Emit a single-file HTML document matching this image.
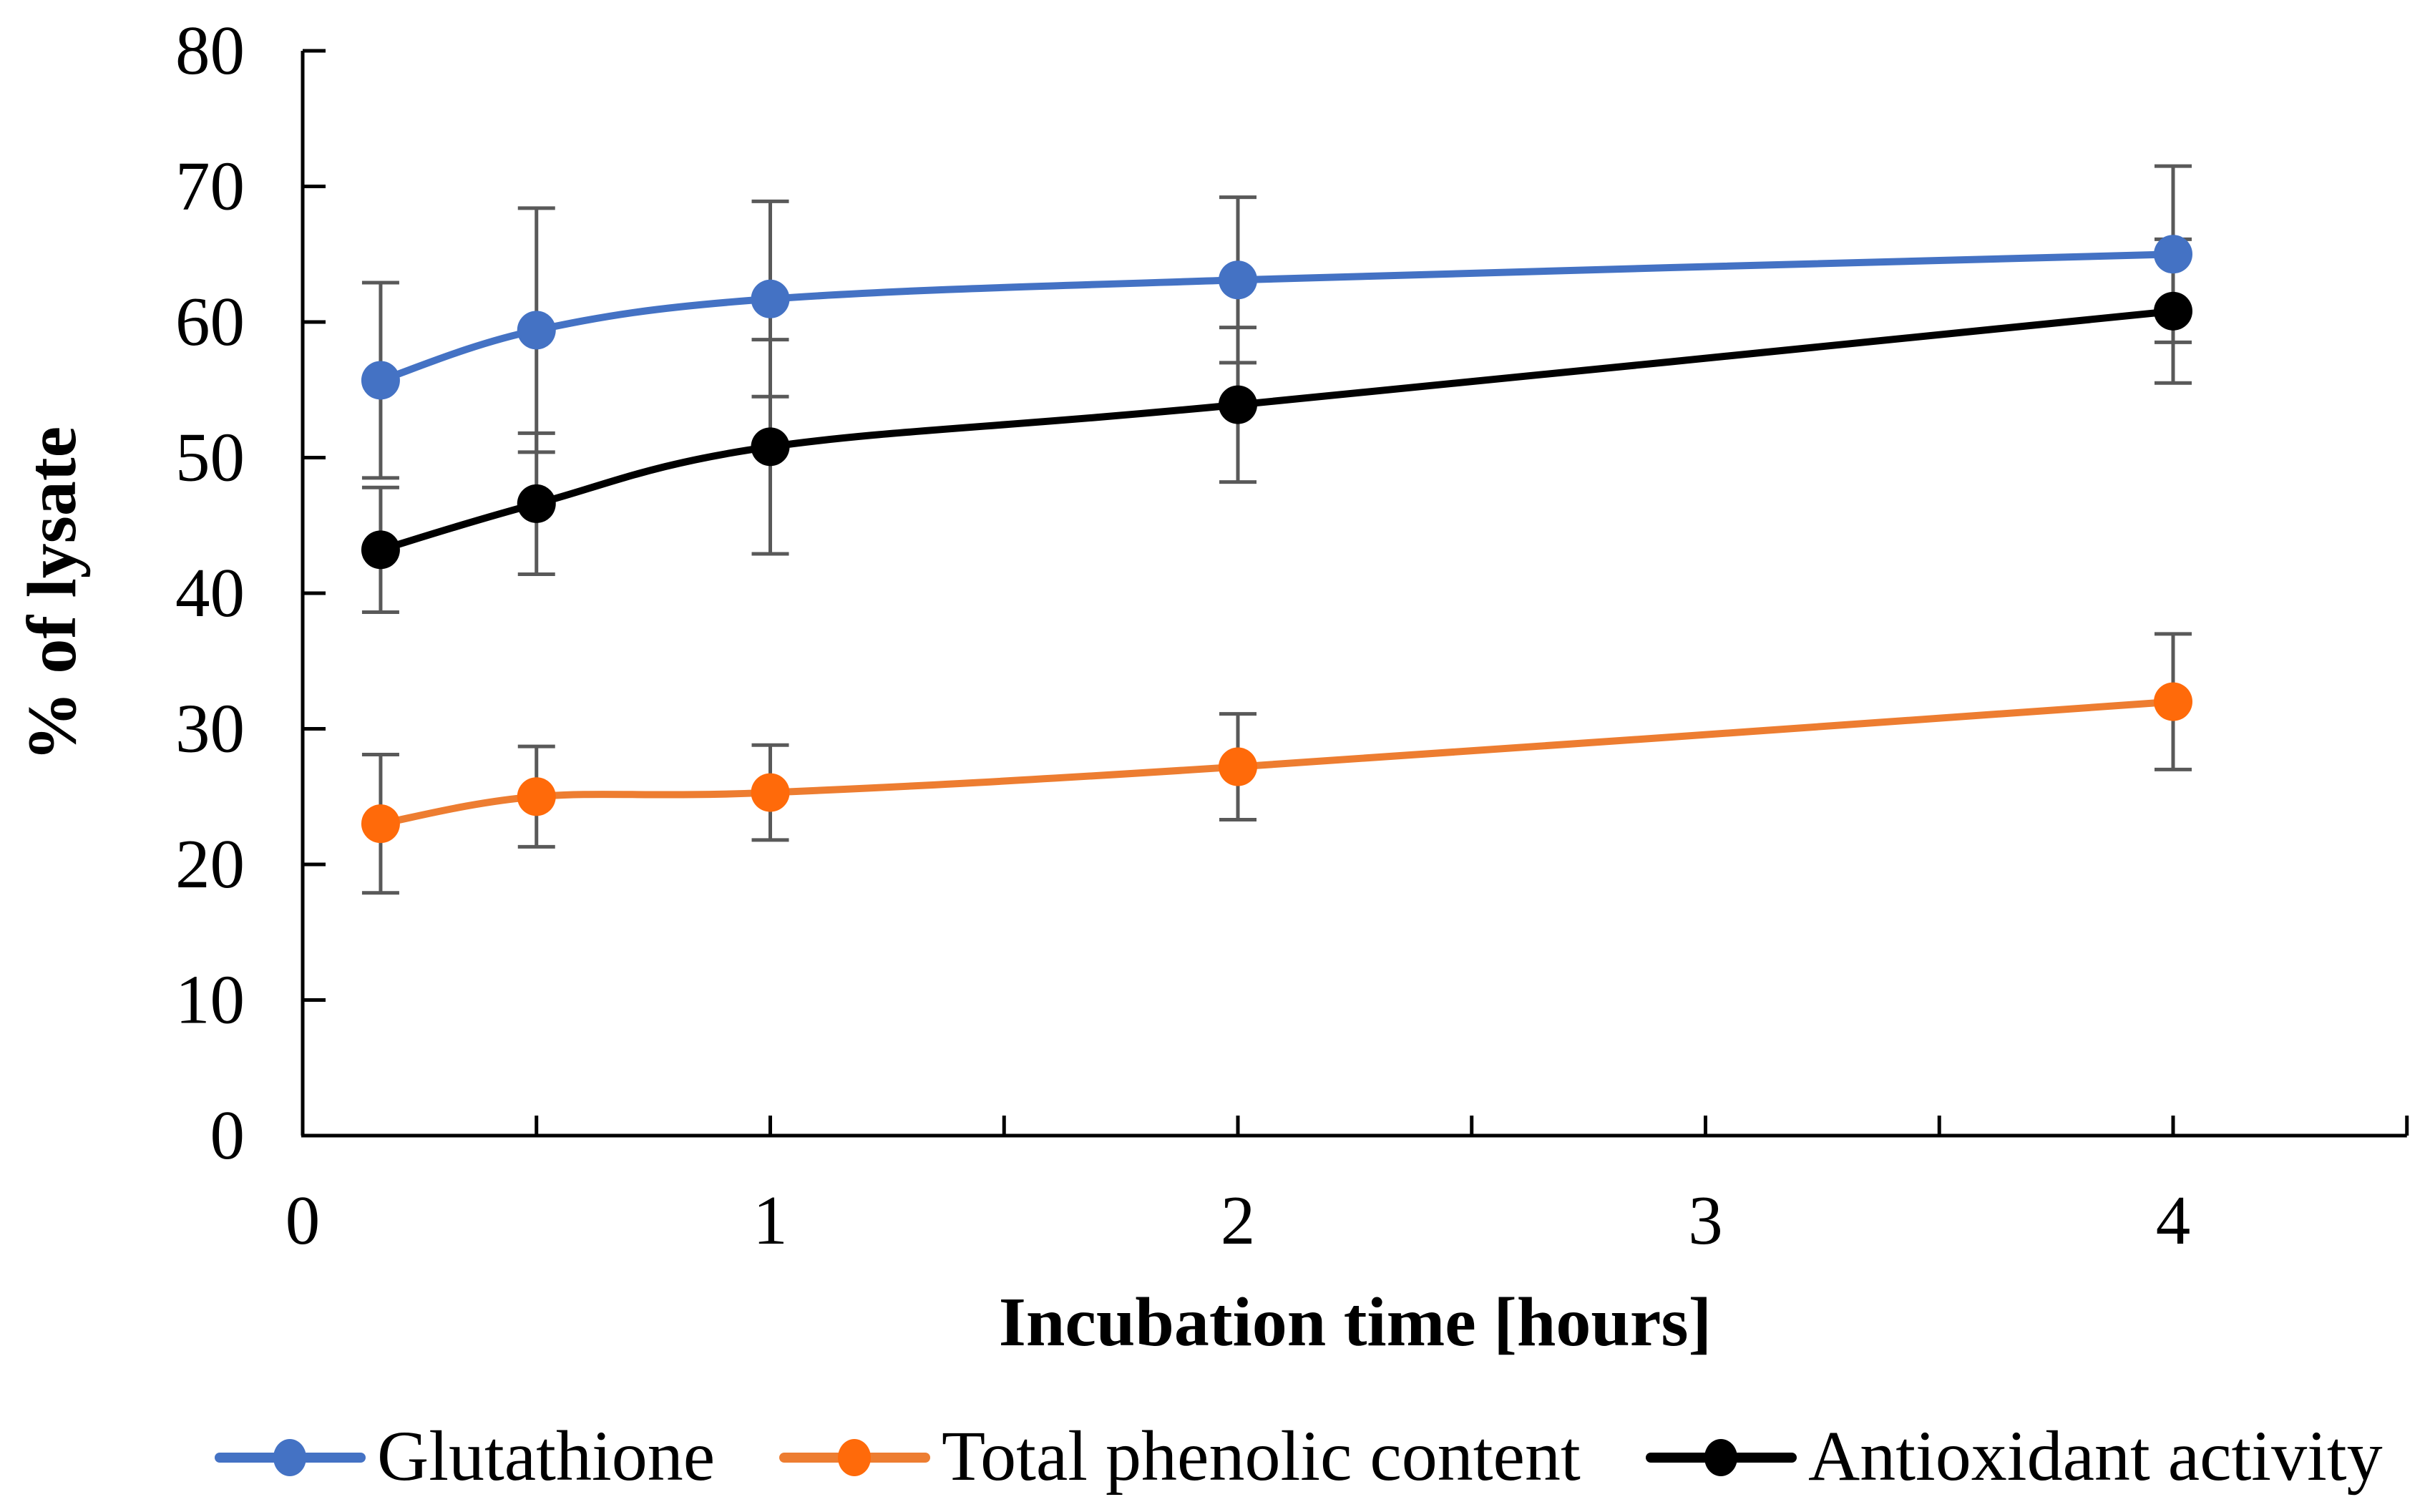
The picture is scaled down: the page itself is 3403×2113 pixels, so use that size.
<!DOCTYPE html>
<html><head><meta charset="utf-8"><style>
html,body{margin:0;padding:0;background:#fff;}
svg{display:block;font-family:"Liberation Serif",serif;}
</style></head><body>
<svg id="chart" width="3403" height="2113" viewBox="0 0 3403 2113" xmlns="http://www.w3.org/2000/svg">
<g id="axes"></g>
<g id="series"></g>
<text x="0" y="0" transform="translate(105,830) rotate(-90)" text-anchor="middle" font-size="98" font-weight="bold">% of lysate</text>
<text x="1894" y="1880" text-anchor="middle" font-size="98" font-weight="bold">Incubation time [hours]</text>
<g id="legend"></g>
</svg>
<script>
const xValues = [0.1667, 0.5, 1, 2, 4];
const glutathione = [55.7, 59.4, 61.7, 63.1, 65.0];
const glutathioneErr = [7.2, 9.0, 7.2, 6.1, 6.5];
const phenolic = [23.0, 25.0, 25.3, 27.2, 32.0];
const phenolicErr = [5.1, 3.7, 3.5, 3.9, 5.0];
const antioxidant = [43.2, 46.6, 50.8, 53.9, 60.8];
const antioxidantErr = [4.6, 5.2, 7.9, 5.7, 5.3];
const yTicks = [0, 10, 20, 30, 40, 50, 60, 70, 80];
const xTickLabels = [0, 1, 2, 3, 4];
const xMinorTicks = [0.5, 1, 1.5, 2, 2.5, 3, 3.5, 4, 4.5];
const legendLabels = ["Glutathione", "Total phenolic content", "Antioxidant activity"];

const NS = "http://www.w3.org/2000/svg";
const X0 = 423, XPU = 653.5, Y0 = 1587, YPU = 18.95;
const xs = v => X0 + v * XPU;
const ys = v => Y0 - v * YPU;
function mk(tag, attrs, parent) {
  const e = document.createElementNS(NS, tag);
  for (const k in attrs) e.setAttribute(k, attrs[k]);
  parent.appendChild(e);
  return e;
}
const axes = document.getElementById('axes');
let e;
e = mk('line', {x1: X0, y1: ys(80), x2: X0, y2: Y0, stroke: '#000', 'stroke-width': 5}, axes);


e = mk('line', {x1: X0 - 2, y1: Y0, x2: xs(4.5), y2: Y0, stroke: '#000', 'stroke-width': 5}, axes);


yTicks.forEach(t => {
  let l = mk('line', {x1: X0, y1: ys(t), x2: X0 + 32, y2: ys(t), stroke: '#000', 'stroke-width': 5}, axes);
  
  
  let tx = mk('text', {x: 342, y: ys(t) + 32, 'text-anchor': 'end', 'font-size': 97}, axes);
  tx.textContent = t;
  
  
});
xMinorTicks.forEach(t => {
  let l = mk('line', {x1: xs(t), y1: Y0, x2: xs(t), y2: Y0 - 28, stroke: '#000', 'stroke-width': 5}, axes);
  
  
});
xTickLabels.forEach(t => {
  let tx = mk('text', {x: xs(t), y: 1738, 'text-anchor': 'middle', 'font-size': 97}, axes);
  tx.textContent = t;
  
  
});

function smoothPath(pts) {
  let d = 'M' + pts[0][0] + ',' + pts[0][1];
  const t = 0.17;
  for (let i = 0; i < pts.length - 1; i++) {
    const p0 = pts[i - 1] || pts[i], p1 = pts[i], p2 = pts[i + 1], p3 = pts[i + 2] || p2;
    const c1x = p1[0] + (p2[0] - p0[0]) * t, c1y = p1[1] + (p2[1] - p0[1]) * t;
    const c2x = p2[0] - (p3[0] - p1[0]) * t, c2y = p2[1] - (p3[1] - p1[1]) * t;
    d += ' C' + c1x + ',' + c1y + ' ' + c2x + ',' + c2y + ' ' + p2[0] + ',' + p2[1];
  }
  return d;
}
const seriesG = document.getElementById('series');
const defs = [
  {vals: glutathione, err: glutathioneErr, line: '#4472C4', mark: '#4472C4', name: 'glutathione'},
  {vals: phenolic, err: phenolicErr, line: '#ED7D31', mark: '#FF6A0A', name: 'phenolic'},
  {vals: antioxidant, err: antioxidantErr, line: '#000', mark: '#000', name: 'antioxidant'}
];
defs.forEach(s => {
  s.vals.forEach((v, i) => {
    const x = xs(xValues[i]);
    const g = mk('g', {stroke: '#595959', 'stroke-width': 5}, seriesG);
    
    
    mk('line', {x1: x, y1: ys(v + s.err[i]), x2: x, y2: ys(v - s.err[i])}, g);
    mk('line', {x1: x - 26, y1: ys(v + s.err[i]), x2: x + 26, y2: ys(v + s.err[i])}, g);
    mk('line', {x1: x - 26, y1: ys(v - s.err[i]), x2: x + 26, y2: ys(v - s.err[i])}, g);
  });
});
defs.forEach(s => {
  const pts = s.vals.map((v, i) => [xs(xValues[i]), ys(v)]);
  const p = mk('path', {d: smoothPath(pts), fill: 'none', stroke: s.line, 'stroke-width': 10, 'stroke-linecap': 'round'}, seriesG);
  
  
  pts.forEach(pt => {
    const c = mk('circle', {cx: pt[0], cy: pt[1], r: 27, fill: s.mark}, seriesG);
    
    
  });
});
const legend = document.getElementById('legend');
const legX = [307, 1096, 2307];
defs.forEach((s, i) => {
  const g = mk('g', {}, legend);
  
  
  mk('line', {x1: legX[i], y1: 2037, x2: legX[i] + 197, y2: 2037, stroke: s.line, 'stroke-width': 14, 'stroke-linecap': 'round'}, g);
  mk('ellipse', {cx: legX[i] + 98, cy: 2037, rx: 23, ry: 26, fill: s.mark}, g);
  const t = mk('text', {x: legX[i] + 220, y: 2068, 'font-size': 100}, g);
  t.textContent = legendLabels[i];
});
</script>
</body></html>
